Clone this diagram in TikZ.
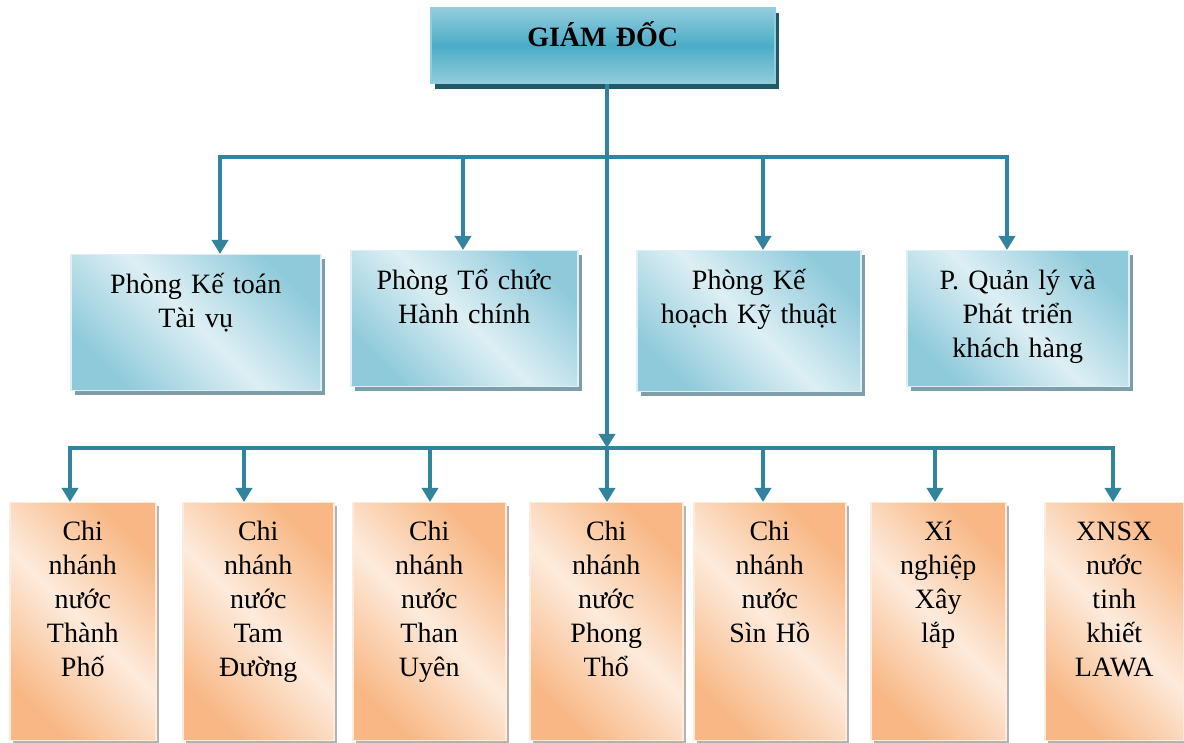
\documentclass[tikz,border=0pt]{standalone}
\usepackage{fontspec}
\setmainfont{Liberation Serif}
\usetikzlibrary{arrows.meta, shadows, positioning}

\definecolor{linkteal}{HTML}{31849B}
\definecolor{gdmid}{HTML}{4BACC6}
\definecolor{gdlight}{HTML}{93CDDD}
\definecolor{gdshadow}{HTML}{215968}
\definecolor{phdark}{HTML}{8FCADA}
\definecolor{phlight}{HTML}{DDEFF4}
\definecolor{phshadow}{HTML}{7E9FA9}
\definecolor{cndark}{HTML}{F8B784}
\definecolor{cnlight}{HTML}{FDEBDC}
\definecolor{cnshadow}{HTML}{B9B2AC}

\begin{document}
\begin{tikzpicture}[
    x=1pt, y=1pt,
    every node/.style={font=\fontsize{28}{34}\selectfont},
    box/.style={anchor=north west, inner xsep=0pt, text height=20pt, align=center},
    gdbox/.style={box, inner ysep=19pt, text depth=18pt,
        draw=gdlight, line width=1.5pt,
        top color=gdlight, bottom color=gdlight, middle color=gdmid,
        font=\fontsize{28}{34}\selectfont\bfseries,
        drop shadow={shadow xshift=4pt, shadow yshift=-5pt, fill=gdshadow, opacity=1}},
    phbox/.style={box, inner ysep=19pt, text depth=78pt,
        draw=phlight, line width=1.5pt,
        top color=phdark, bottom color=phdark, middle color=phlight, shading angle=-45,
        drop shadow={shadow xshift=4pt, shadow yshift=-4pt, fill=phshadow, opacity=1}},
    cnbox/.style={box, inner ysep=18pt, text depth=182pt,
        draw=cnlight, line width=1.5pt,
        top color=cndark, bottom color=cndark, middle color=cnlight, shading angle=-45,
        drop shadow={shadow xshift=3pt, shadow yshift=-3pt, fill=cnshadow, opacity=1}},
    link/.style={draw=linkteal, line width=4pt, line cap=rect},
    arrowlink/.style={draw=linkteal, line width=4pt,
        -{Triangle[width=16pt, length=14pt]}}
]
    \useasboundingbox (0,0) rectangle (1184,743);

    % director
    \node[gdbox, text width=344pt] (gd) at (430,736) {GIÁM ĐỐC};

    % departments
    \node[phbox, text width=250pt] (m1) at (70,489) {Phòng Kế toán\\Tài vụ};
    \node[phbox, text width=227pt] (m2) at (350,493) {Phòng Tổ chức\\Hành chính};
    \node[phbox, text width=224pt, text depth=83pt] (m3) at (636,493) {Phòng Kế\\hoạch Kỹ thuật};
    \node[phbox, text width=222pt] (m4) at (906,493) {P. Quản lý và\\Phát triển\\khách hàng};

    % branches
    \node[cnbox, text width=146pt] (b1) at (9,241) {Chi\\nhánh\\nước\\Thành\\Phố};
    \node[cnbox, text width=151pt] (b2) at (182,241) {Chi\\nhánh\\nước\\Tam\\Đường};
    \node[cnbox, text width=153pt] (b3) at (352,241) {Chi\\nhánh\\nước\\Than\\Uyên};
    \node[cnbox, text width=153pt] (b4) at (529,241) {Chi\\nhánh\\nước\\Phong\\Thổ};
    \node[cnbox, text width=152pt] (b5) at (693,241) {Chi\\nhánh\\nước\\Sìn Hồ};
    \node[cnbox, text width=135pt] (b6) at (870,241) {Xí\\nghiệp\\Xây\\lắp};
    \node[cnbox, text width=139pt] (b7) at (1044,241) {XNSX\\nước\\tinh\\khiết\\LAWA};

    % bus points
    \coordinate (u1) at (220,586);
    \coordinate (u2) at (463,586);
    \coordinate (u3) at (763,586);
    \coordinate (u4) at (1007,586);
    \coordinate (l1) at (70,295);
    \coordinate (l2) at (244,295);
    \coordinate (l3) at (430,295);
    \coordinate (l4) at (607,295);
    \coordinate (l5) at (763,295);
    \coordinate (l6) at (935,295);
    \coordinate (l7) at (1113,295);

    \draw[link] (u1) -- (u4);
    \draw[link] (l1) -- (l7);
    \draw[arrowlink] (l4 |- gd.south) -- (l4);

    \foreach \d/\b in {u1/m1, u2/m2, u3/m3, u4/m4}
        \draw[arrowlink] (\d) -- (\d |- \b.north);
    \foreach \d/\b in {l1/b1, l2/b2, l3/b3, l4/b4, l5/b5, l6/b6, l7/b7}
        \draw[arrowlink] (\d) -- (\d |- \b.north);
\end{tikzpicture}
\end{document}
